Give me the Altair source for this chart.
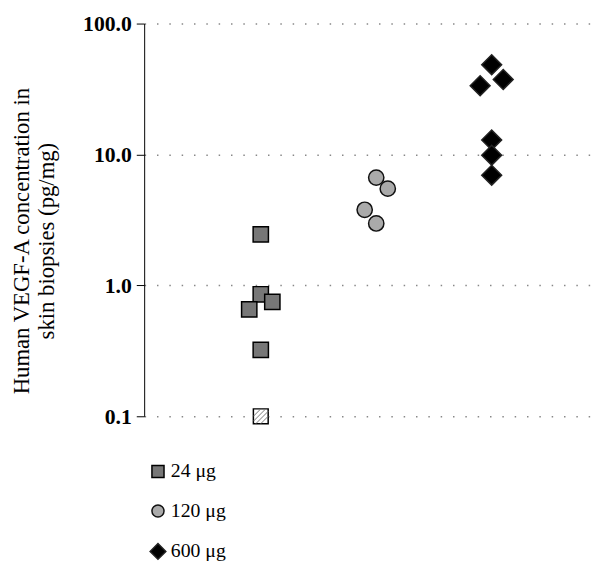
import altair as alt
import pandas as pd

# ---- data ----
groups = ["24 μg", "120 μg", "600 μg"]
group_pos = [1, 2, 3]

vegf_24 = [2.45, 0.855, 0.748, 0.656, 0.322]
jitter_24 = [0, 0, 1, -1, 0]
vegf_120 = [6.66, 5.48, 3.78, 2.97]
jitter_120 = [0, 1, -1, 0]
vegf_600 = [48.5, 37.4, 33.5, 12.9, 9.88, 6.95]
jitter_600 = [0, 1, -1, 0, 0, 0]

# sample below detection limit (24 µg group), drawn hatched at 0.1
below_lod_24 = [0.1]

y_ticks = [0.1, 1, 10, 100]
y_title = ["Human VEGF-A concentration in", "skin biopsies (pg/mg)"]

rows = []
for g, pos, vals, jit in zip(groups, group_pos,
                             [vegf_24, vegf_120, vegf_600],
                             [jitter_24, jitter_120, jitter_600]):
    for v, j in zip(vals, jit):
        rows.append({"dose": g, "x": pos + 0.1 * j, "vegf": v})
df = pd.DataFrame(rows)
lod = pd.DataFrame({"dose": ["24 μg"] * len(below_lod_24),
                    "x": [group_pos[0]] * len(below_lod_24),
                    "vegf": below_lod_24})

FONT = "Liberation Serif"

x_enc = alt.X("x:Q", scale=alt.Scale(domain=[-0.01, 3.87], nice=False, zero=False), axis=None)
y_enc = alt.Y(
    "vegf:Q",
    scale=alt.Scale(type="log", domain=[0.1, 100], nice=False),
    axis=alt.Axis(
        values=y_ticks, format=".1f", title=y_title,
        labelFont=FONT, labelFontSize=22, labelFontWeight="bold", labelColor="black",
        labelPadding=5, tickSize=8, tickColor="black", domainColor="black",
        titleFont=FONT, titleFontSize=23, titleFontWeight="normal", titleColor="black",
        titlePadding=24, titleLineHeight=26, titleY=220,
        grid=True, gridColor="#888888", gridDash=[1.5, 11], gridWidth=1.5,
    ),
)

diamond_big = "M-1.3,0L0,-1.3L1.3,0L0,1.3Z"
legend = alt.Legend(title=None, orient="none", legendX=4, legendY=444, padding=0,
                    direction="vertical", rowPadding=20,
                    labelFont=FONT, labelFontSize=20, labelColor="black",
                    symbolSize=150, symbolStrokeColor="black",
                    symbolStrokeWidth=1.5, labelOffset=3)

points = alt.Chart(df).mark_point(filled=True, strokeWidth=1.5, opacity=1,
                                  size=240).encode(
    x=x_enc,
    y=y_enc,
    shape=alt.Shape("dose:N", scale=alt.Scale(domain=groups, range=["square", "circle", diamond_big]),
                    legend=legend),
    fill=alt.Fill("dose:N", scale=alt.Scale(domain=groups, range=["#777777", "#aaaaaa", "#000000"]),
                  legend=legend),
    stroke=alt.Stroke("dose:N", scale=alt.Scale(domain=groups, range=["#000000", "#111111", "#222222"]),
                      legend=legend),
)

lod_box = alt.Chart(lod).mark_point(shape="square", filled=True, fill="white", stroke="black",
                                     strokeWidth=1.5, size=225, opacity=1).encode(x=x_enc, y=y_enc)

hatch_path = "M-1,0L0,-1M-1,0.67L0.67,-1M-0.67,1L1,-0.67M0,1L1,0"
lod_hatch = alt.Chart(lod).mark_point(shape=hatch_path, filled=False, stroke="#777777",
                                       strokeWidth=1, size=225, opacity=1).encode(x=x_enc, y=y_enc)

chart = alt.layer(points, lod_box, lod_hatch).properties(
    width=454, height=398,
    autosize=alt.AutoSizeParams(type="none"),
    padding={"left": 138, "top": 12, "right": 10, "bottom": 150},
).configure_view(stroke=None)

chart.save("out.html", embed_options={"renderer": "svg", "actions": False})
